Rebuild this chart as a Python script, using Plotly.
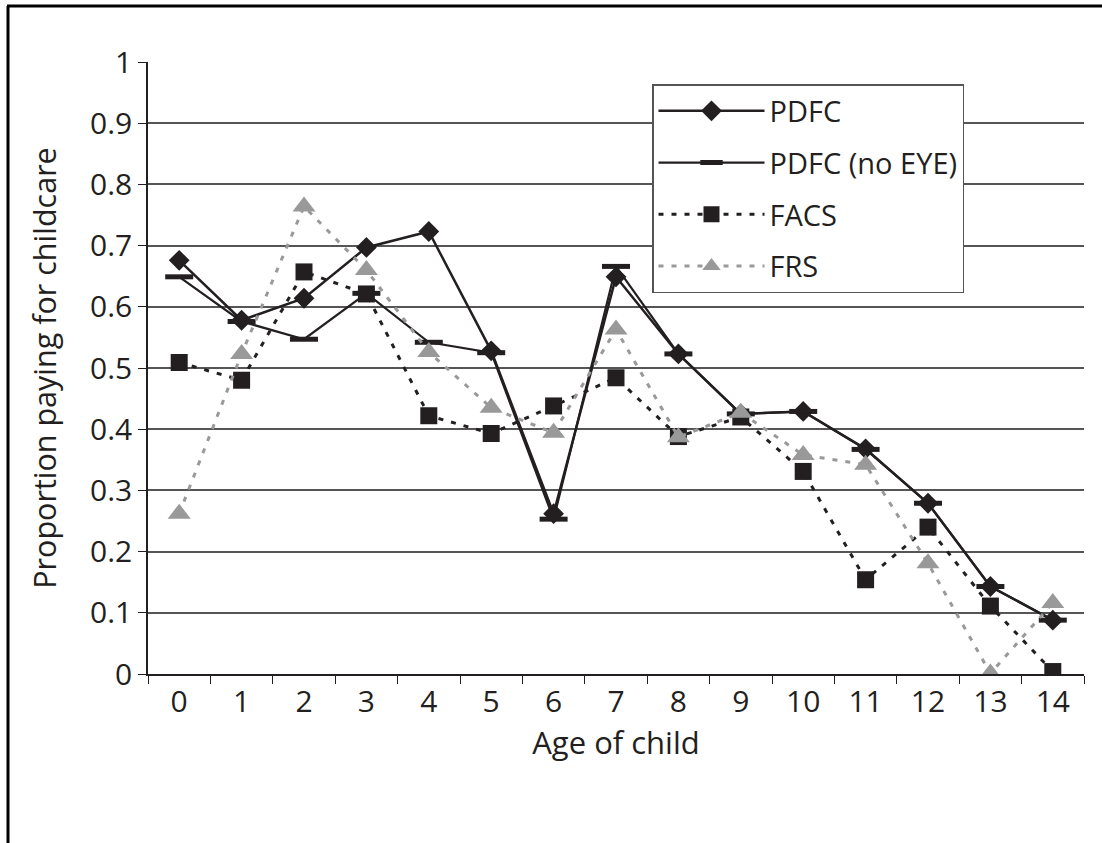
import plotly.graph_objects as go

ages = [str(a) for a in range(15)]
pdfc = [0.676, 0.578, 0.614, 0.697, 0.723, 0.528, 0.262, 0.649, 0.523, 0.425, 0.429, 0.368, 0.279, 0.143, 0.088]
pdfc_no_eye = [0.649, 0.576, 0.547, 0.622, 0.542, 0.525, 0.253, 0.666, 0.523, 0.425, 0.429, 0.367, 0.279, 0.143, 0.088]
facs = [0.509, 0.480, 0.657, 0.621, 0.422, 0.393, 0.438, 0.484, 0.388, 0.420, 0.331, 0.154, 0.240, 0.111, 0.004]
frs = [0.262, 0.523, 0.764, 0.660, 0.526, 0.435, 0.394, 0.563, 0.387, 0.427, 0.358, 0.342, 0.181, 0.001, 0.116]

BLACK = "#231f20"
GRAY = "#999999"
FONT = "Open Sans"

fig = go.Figure()
fig.add_trace(go.Scatter(x=ages, y=pdfc, name="PDFC", mode="lines+markers", legendgroup="a",
                         line=dict(color=BLACK, width=2.5),
                         marker=dict(symbol="diamond", size=16, color=BLACK)))
fig.add_trace(go.Scatter(x=ages, y=pdfc_no_eye, name="PDFC (no EYE)", mode="lines+markers", legendgroup="b",
                         line=dict(color=BLACK, width=2.2),
                         marker=dict(symbol="line-ew", size=20, line=dict(color=BLACK, width=5))))
fig.add_trace(go.Scatter(x=ages, y=facs, name="FACS", mode="lines+markers", legendgroup="c",
                         line=dict(color=BLACK, width=3, dash="5px,8px"),
                         marker=dict(symbol="square", size=17, color=BLACK)))
fig.add_trace(go.Scatter(x=ages, y=frs, name="FRS", mode="lines+markers", legendgroup="d",
                         line=dict(color=GRAY, width=3, dash="5px,8px"),
                         marker=dict(symbol="triangle-up", size=20, color=GRAY)))

L, R, T, B = 148, 1084, 62, 674
W, H = 1102, 843
pw, ph = R - L, B - T

def px_x(x):
    return (x - L) / pw

def px_y(y):
    return (B - y) / ph

fig.update_layout(
    width=W, height=H,
    margin=dict(l=L, r=W - R, t=T, b=H - B, autoexpand=False),
    paper_bgcolor="white", plot_bgcolor="white",
    font=dict(family=FONT, size=29, color=BLACK),
    showlegend=True,
    legend=dict(x=px_x(652), y=px_y(84), xanchor="left", yanchor="top",
                bgcolor="white", bordercolor="#555555", borderwidth=1.5,
                font=dict(family=FONT, size=29, color=BLACK),
                traceorder="grouped", tracegroupgap=11, itemwidth=106),
    xaxis=dict(type="category", range=[-0.5, 14.5], tickson="boundaries",
               ticks="outside", ticklen=8, tickcolor=BLACK, tickwidth=1.2,
               showline=True, linecolor=BLACK, linewidth=1.5, showgrid=False,
               tickfont=dict(size=30), zeroline=False,
               title=dict(text="Age of child", font=dict(size=31), standoff=6)),
    yaxis=dict(range=[0, 1], dtick=0.1, tick0=0, ticks="outside", ticklen=8, tickcolor=BLACK,
               tickwidth=1.2, showline=True, linecolor=BLACK, linewidth=1.5,
               showgrid=True, gridcolor="#555555", gridwidth=1.5, zeroline=False,
               tickfont=dict(size=30),
               title=dict(text="Proportion paying for childcare", font=dict(size=30.5), standoff=24)),
    shapes=[
        dict(type="line", xref="paper", yref="paper", x0=px_x(7), x1=px_x(1110), y0=px_y(6), y1=px_y(6),
             line=dict(color="black", width=3)),
        dict(type="line", xref="paper", yref="paper", x0=px_x(8), x1=px_x(8), y0=px_y(6), y1=px_y(850),
             line=dict(color="black", width=3)),
    ],
)

fig.write_html("out.html", config={"displayModeBar": False},
               post_script="document.body.style.margin='0';")
